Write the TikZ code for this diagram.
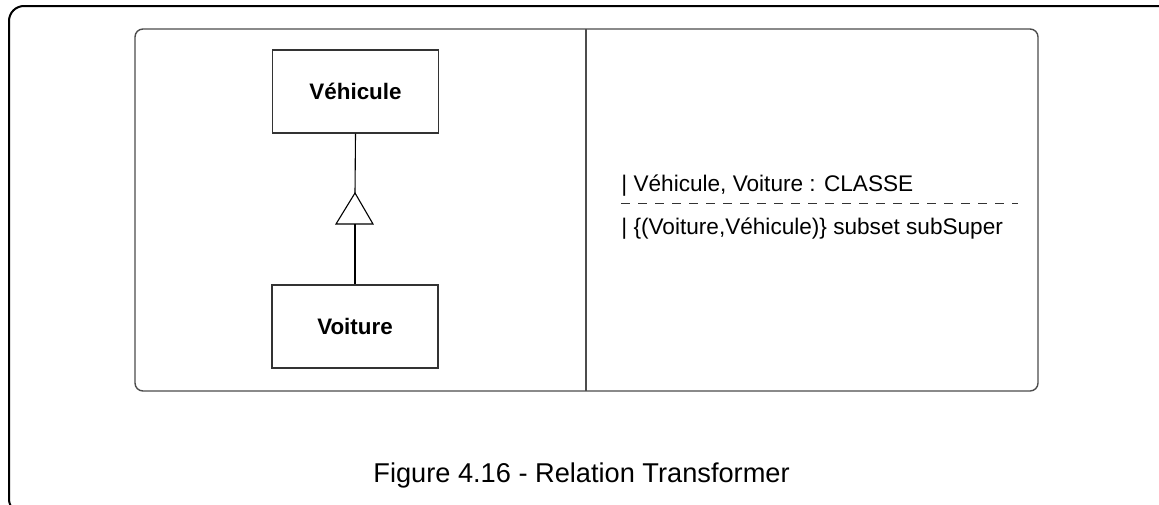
\documentclass[tikz,border=0pt]{standalone}
\usepackage{fontspec}
\setmainfont{Liberation Sans}
\begin{document}
\begin{tikzpicture}[x=0.5pt,y=-0.5pt,
  outerframe/.style={draw=black,line width=1pt,rounded corners=7.5pt},
  innerframe/.style={draw=black!70,line width=0.7pt,rounded corners=4pt},
  classbox/.style={draw=black!80,line width=0.6pt,minimum width=83pt,minimum height=41.5pt,
     font=\fontsize{11.2}{13}\selectfont\bfseries,text height=8pt,text depth=0pt,inner sep=0pt},
  link/.style={draw=black,line width=0.55pt},
  spec/.style={font=\fontsize{11.3}{13}\selectfont,anchor=base west,inner sep=0pt},
  caption/.style={font=\fontsize{13.6}{16}\selectfont,anchor=base,inner sep=0pt}]
\useasboundingbox (0,0) rectangle (1159,504);
\begin{scope}
\clip (0,0) rectangle (1159,504);
\draw[outerframe] (9,6) rectangle (1172,514);
\end{scope}
\draw[innerframe] (135,29) rectangle (1038,391);
\draw[draw=black!70,line width=0.7pt] (586,29) -- (586,391);
\node[classbox] (veh) at (355.5,91.5) {Véhicule};
\node[classbox] (voi) at (355,326.5) {Voiture};
\coordinate (apex) at (355,193);
\coordinate (base) at (355,224);
\draw[link] (veh.south) -- (apex);
\draw[link] (apex) -- (373,224) -- (336,224) -- cycle;
\draw[link] (base) -- (voi.north);
\node[spec] (l1) at (621,191) {| Véhicule, Voiture : CLASSE};
\draw[draw=black!80,line width=0.5pt,dash pattern=on 4.5pt off 4pt] (621,203) coordinate (d1) -- (1018,203) coordinate (d2);
\node[spec] (l2) at (621,234) {| \{(Voiture,Véhicule)\} subset subSuper};
\node[caption] (cap) at (581.5,482) {Figure 4.16 - Relation Transformer};
\end{tikzpicture}
\end{document}
